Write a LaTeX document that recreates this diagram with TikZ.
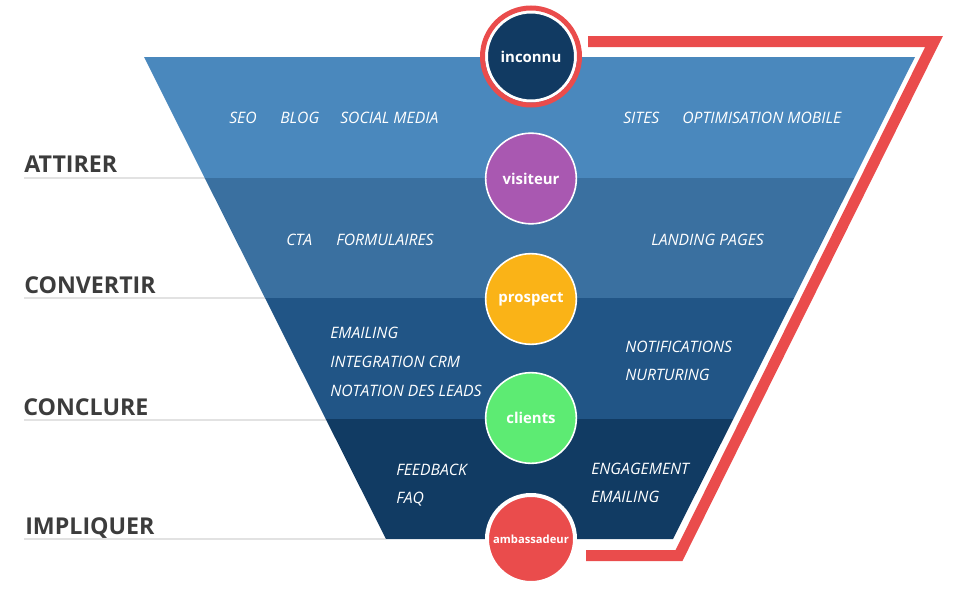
\documentclass[tikz,border=0pt]{standalone}
\usepackage{fontspec}
\setmainfont{Open Sans}
\definecolor{bandA}{HTML}{4A88BD}
\definecolor{bandB}{HTML}{3A70A0}
\definecolor{bandC}{HTML}{215586}
\definecolor{bandD}{HTML}{113B63}
\definecolor{stagegray}{HTML}{3C3C3C}
\definecolor{rulegray}{HTML}{E2E2E2}
\definecolor{navyc}{HTML}{113A62}
\definecolor{purplec}{HTML}{A958B1}
\definecolor{yellowc}{HTML}{FAB317}
\definecolor{greenc}{HTML}{5DEB73}
\definecolor{redc}{HTML}{EA4C4C}
\tikzset{
  stage/.style={anchor=base west, inner sep=0pt, text=stagegray, font=\bfseries\fontsize{17.4}{17.4}\selectfont},
  item/.style={anchor=base west, inner sep=0pt, text=white, font=\itshape\fontsize{11.8}{11.8}\selectfont},
  ball/.style={circle, minimum size=68pt, inner sep=0pt, draw=white, line width=1.2pt, text=white, font=\bfseries\fontsize{11.2}{11.2}\selectfont},
}
\begin{document}
\begin{tikzpicture}[x=0.75pt,y=0.75pt,yscale=-1,xscale=1]
\useasboundingbox (0,0) rectangle (960,589);

%Shape: Rules [id:stagerules]
\draw [rulegray, line width=0.9pt] (24,178) -- (205,178) (24,298) -- (265,298) (24,420) -- (326,420) (24,539) -- (386,539) ;
%Shape: Funnel bands
\fill [bandA] (144,57) -- (915,57) -- (854.3,178) -- (204.7,178) -- cycle ;
\fill [bandB] (204.7,178) -- (854.3,178) -- (794,298) -- (265,298) -- cycle ;
\fill [bandC] (265,298) -- (794,298) -- (733.3,419) -- (325.7,419) -- cycle ;
\fill [bandD] (325.7,419) -- (733.3,419) -- (673,539) -- (386,539) -- cycle ;

%Shape: Circles
\draw (531,56.5) node (inconnu) [ball, minimum size=66.75pt, fill=navyc, line width=2.25pt] {inconnu};
\draw [redc, line width=3.75pt] (inconnu) circle (48.5) ;
\draw (531,178.5) node (visiteur) [ball, fill=purplec] {visiteur};
\draw (531,299) node (prospect) [ball, fill=yellowc] {prospect};
\draw (531,418) node (clients) [ball, fill=greenc] {clients};
\draw (531,539) node (ambassadeur) [ball, minimum size=66pt, fill=redc, line width=3pt, font=\bfseries\fontsize{8.4}{8.4}\selectfont] {ambassadeur};

%Straight Lines [id:redloop]
\coordinate (rstart) at (588,41.5);
\coordinate (rtop) at (934,41.5);
\coordinate (rbot) at (679,555.5);
\coordinate (rend) at (586,555.5);
\draw [redc, line width=8.25pt, line join=miter] (rstart) -- (rtop) -- (rbot) -- (rend) ;

% Text Node
\draw (24,172) node (attirer) [stage] {ATTIRER};
% Text Node
\draw (24,293) node (convertir) [stage] {CONVERTIR};
% Text Node
\draw (23,415) node (conclure) [stage] {CONCLURE};
% Text Node
\draw (25,534) node (impliquer) [stage] {IMPLIQUER};

% Text Node
\draw (229,123) node (seo) [item] {SEO};
% Text Node
\draw (280,123) node (blog) [item] {BLOG};
% Text Node
\draw (340,123) node (social) [item] {SOCIAL MEDIA};
% Text Node
\draw (623,123) node (sites) [item] {SITES};
% Text Node
\draw (682,123) node (mobile) [item] {OPTIMISATION MOBILE};
% Text Node
\draw (286,245) node (cta) [item] {CTA};
% Text Node
\draw (336,245) node (formulaires) [item] {FORMULAIRES};
% Text Node
\draw (651,245) node (landing) [item] {LANDING PAGES};
% Text Node
\draw (330,338) node (emailingA) [item] {EMAILING};
% Text Node
\draw (330,367) node (crm) [item] {INTEGRATION CRM};
% Text Node
\draw (330,396) node (leads) [item] {NOTATION DES LEADS};
% Text Node
\draw (625,352) node (notifications) [item] {NOTIFICATIONS};
% Text Node
\draw (625,380) node (nurturing) [item] {NURTURING};
% Text Node
\draw (396,475) node (feedback) [item] {FEEDBACK};
% Text Node
\draw (396,503) node (faq) [item] {FAQ};
% Text Node
\draw (591,474) node (engagement) [item] {ENGAGEMENT};
% Text Node
\draw (591,502) node (emailingB) [item] {EMAILING};

\end{tikzpicture}
\end{document}
